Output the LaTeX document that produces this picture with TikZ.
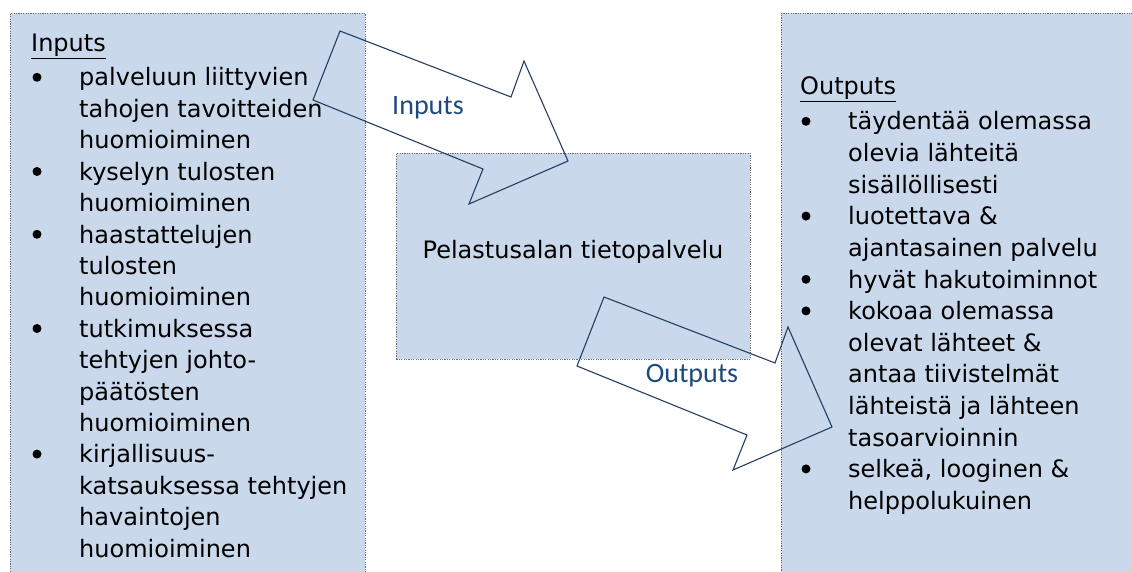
\documentclass[tikz,border=0pt]{standalone}
\usepackage{fontspec}
\setmainfont{DejaVu Sans}
\newfontfamily\labelfont{Carlito}
\definecolor{panelfill}{RGB}{201,216,234}
\definecolor{panelborder}{RGB}{110,110,110}
\definecolor{arrowline}{RGB}{36,62,100}
\definecolor{labelblue}{RGB}{31,73,125}
\tikzset{
  panel/.style={draw=panelborder, fill=panelfill, line width=0.9pt, dash pattern=on 1.2pt off 1.2pt, inner sep=0pt},
  textline/.style={anchor=base west, inner sep=0pt, font=\fontsize{24}{30}\selectfont, text=black},
  bulletmark/.style={circle, fill=black, inner sep=0pt, minimum size=9pt},
  blockarrow/.style={draw=arrowline, line width=1.1pt, line join=miter},
  arrowlabel/.style={anchor=base, inner sep=0pt, font=\labelfont\fontsize{28}{32}\selectfont, text=labelblue}
}
\begin{document}
\begin{tikzpicture}[x=1pt,y=-1pt]
\useasboundingbox (0,0) rectangle (1132,572);
\clip (0,0) rectangle (1132,572);
% boxes
\node[panel, anchor=north west, minimum width=355pt, minimum height=600pt] (inbox) at (10,13) {};
\node[panel, anchor=north west, minimum width=400pt, minimum height=600pt] (outbox) at (781,13) {};
\node[panel, anchor=north west, minimum width=354pt, minimum height=206pt] (service) at (396,153) {};
\node[anchor=base, inner sep=0pt, font=\fontsize{24}{30}\selectfont] (servicetext) at (573,258) {Pelastusalan tietopalvelu};
% left text
\node[textline] (inhead) at (31,52) {\underline{Inputs}};
\foreach \t [count=\k from 0] in {palveluun liittyvien, tahojen tavoitteiden, huomioiminen, kyselyn tulosten, huomioiminen, haastattelujen, tulosten, huomioiminen, tutkimuksessa, tehtyjen johto-, päätösten, huomioiminen, kirjallisuus-, katsauksessa tehtyjen, havaintojen, huomioiminen}
  \node[textline] (inline\k) at (79,{86+31.4*\k}) {\t};
\foreach \k in {0,3,5,8,12}
  \node[bulletmark] (inbullet\k) at (37,{86+31.4*\k-8.7}) {};
% right text
\node[textline] (outhead) at (800,95) {\underline{Outputs}};
\foreach \t [count=\k from 0] in {täydentää olemassa, olevia lähteitä, sisällöllisesti, luotettava \&, ajantasainen palvelu, hyvät hakutoiminnot, kokoaa olemassa, olevat lähteet \&, antaa tiivistelmät, lähteistä ja lähteen, tasoarvioinnin, {selkeä, looginen \&}, helppolukuinen}
  \node[textline] (outline\k) at (848,{130+31.6*\k}) {\t};
\foreach \k in {0,3,5,6,11}
  \node[bulletmark] (outbullet\k) at (806,{130+31.6*\k-8.7}) {};
% block arrows
\draw[blockarrow] (340,31) -- (511,97) -- (524,61) -- (568,161) -- (469,204) -- (483,169) -- (313,100) -- cycle;
\draw[blockarrow, shift={(264pt,-266pt)}] (340,31) -- (511,97) -- (524,61) -- (568,161) -- (469,204) -- (483,169) -- (313,100) -- cycle;
\node[arrowlabel] (inlabel) at (428,115) {Inputs};
\node[arrowlabel] (outlabel) at (692,382) {Outputs};
\end{tikzpicture}
\end{document}
